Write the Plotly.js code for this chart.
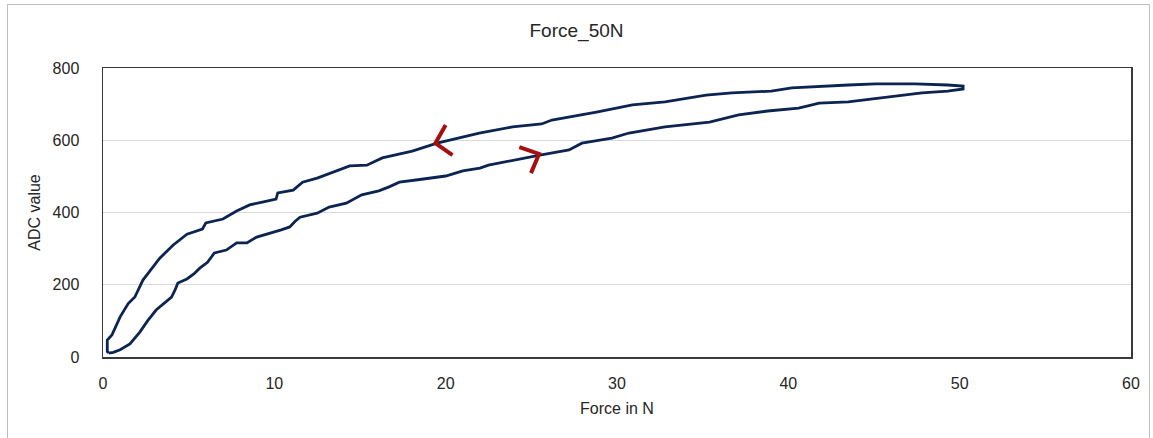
<!DOCTYPE html>
<html>
<head>
<meta charset="utf-8">
<script src="https://cdn.plot.ly/plotly-3.0.1.min.js"></script>
<style>
  html, body { margin: 0; padding: 0; background: #ffffff; }
  #wrap { position: relative; width: 1153px; height: 438px; }
  #chart { width: 1153px; height: 438px; }
  #frame { position: absolute; left: 7px; top: 4px; width: 1141px; height: 440px;
           border-left: 1px solid #bfbfbf; border-top: 1px solid #bfbfbf; border-right: 1px solid #bfbfbf;
           pointer-events: none; }
</style>
</head>
<body>
<div id="wrap">
  <div id="chart"></div>
  <div id="frame"></div>
</div>
<script>
// Loading branch (force increasing)
const loadX = [0.35, 0.6, 1.0, 1.16, 1.57, 2.15, 2.6, 3.1, 3.6, 4.0, 4.2, 4.37, 4.9, 5.3, 5.65, 6.1, 6.5, 6.8, 7.2, 7.8, 8.4, 8.97, 9.84, 10.4, 10.9, 11.2, 11.5, 12.5, 13.2, 14.2, 15.1, 16.1, 16.7, 17.3, 18.6, 20.0, 21.0, 22.0, 22.5, 23.9, 25.5, 27.2, 27.95, 29.7, 30.7, 32.8, 35.4, 37.1, 38.8, 40.6, 41.8, 43.5, 45.4, 47.8, 49.3, 50.2];
const loadY = [11, 13, 20, 25, 36, 69, 100, 130, 150, 166, 185, 205, 216, 230, 246, 262, 288, 292, 296, 316, 316, 332, 343, 352, 360, 375, 387, 398, 415, 426, 449, 460, 471, 484, 492, 501, 515, 523, 531, 545, 559, 573, 592, 606, 620, 637, 650, 670, 681, 689, 703, 706, 717, 731, 736, 742];
// Unloading branch (force decreasing)
const unloadX = [50.2, 49.3, 47.4, 45.1, 43.5, 42.5, 40.2, 39.0, 36.7, 35.2, 32.8, 30.9, 28.8, 26.2, 25.6, 23.9, 21.96, 19.5, 18.05, 16.3, 15.4, 14.4, 13.6, 12.5, 11.65, 11.1, 10.2, 10.1, 9.3, 8.56, 7.8, 7.0, 6.0, 5.8, 4.9, 4.1, 3.3, 2.33, 1.86, 1.47, 1.0, 0.52, 0.25, 0.25, 0.35];
const unloadY = [750, 753, 756, 756, 753, 750, 745, 736, 731, 725, 706, 698, 678, 656, 645, 637, 620, 592, 570, 551, 531, 529, 515, 495, 484, 462, 454, 437, 429, 421, 404, 382, 371, 354, 340, 310, 273, 213, 166, 148, 111, 61, 47, 15, 11];
// Direction marks
const arrowLeftX = [20.0, 19.4, 20.4];
const arrowLeftY = [642, 592, 559];
const arrowRightX = [24.3, 25.45, 24.98];
const arrowRightY = [581, 562, 509];
const xTicks = [0, 10, 20, 30, 40, 50, 60];
const yTicks = [0, 200, 400, 600, 800];

const lineColor = '#0c2452';
const arrowColor = '#a50f12';

const traces = [
  { x: loadX.concat(unloadX), y: loadY.concat(unloadY), type: 'scatter', mode: 'lines',
    line: { color: lineColor, width: 2.8 }, hoverinfo: 'skip' },
  { x: arrowLeftX, y: arrowLeftY, type: 'scatter', mode: 'lines',
    line: { color: arrowColor, width: 4 }, hoverinfo: 'skip' },
  { x: arrowRightX, y: arrowRightY, type: 'scatter', mode: 'lines',
    line: { color: arrowColor, width: 4 }, hoverinfo: 'skip' }
];

const fontFam = '"Liberation Sans", Arial, sans-serif';
const layout = {
  width: 1153, height: 438,
  margin: { l: 103, r: 22, t: 68, b: 81 },
  paper_bgcolor: '#ffffff', plot_bgcolor: '#ffffff',
  showlegend: false,
  title: { text: 'Force_50N', x: 0.5, xanchor: 'center', y: 0.93, yanchor: 'middle',
           font: { family: fontFam, size: 19, color: '#262626' } },
  xaxis: {
    range: [0, 60], tickvals: xTicks, ticktext: xTicks.map(String),
    showgrid: false, zeroline: false,
    showline: true, mirror: true, linecolor: '#3a3a3a', linewidth: 1.5,
    ticks: '', ticklabelstandoff: 11,
    tickfont: { family: fontFam, size: 16, color: '#262626' },
    title: { text: 'Force in N', standoff: 12, font: { family: fontFam, size: 16, color: '#262626' } }
  },
  yaxis: {
    range: [0, 800], tickvals: yTicks, ticktext: yTicks.map(String),
    showgrid: true, gridcolor: '#d9d9d9', gridwidth: 1, zeroline: false,
    showline: true, mirror: true, linecolor: '#3a3a3a', linewidth: 1.5,
    ticks: '', ticklabelstandoff: 19,
    tickfont: { family: fontFam, size: 16, color: '#262626' },
    title: { text: 'ADC value', standoff: 8, font: { family: fontFam, size: 16, color: '#262626' } }
  }
};

Plotly.newPlot('chart', traces, layout, { displayModeBar: false, staticPlot: true });
</script>
</body>
</html>
